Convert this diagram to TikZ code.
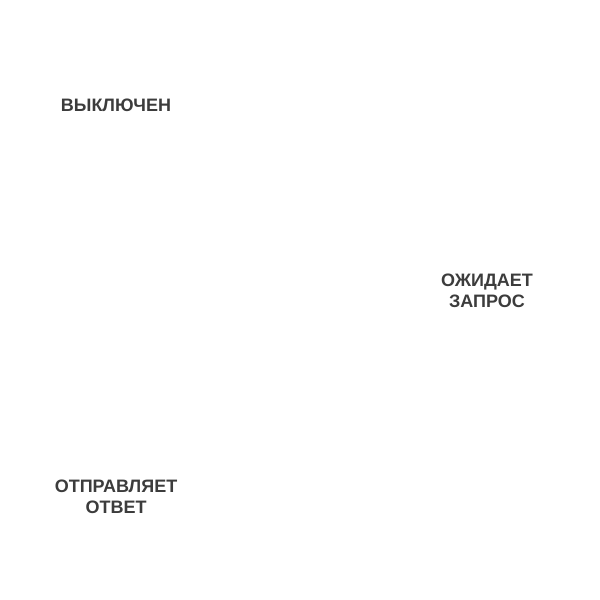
\documentclass[tikz,border=0pt]{standalone}
\usepackage{fontspec}
\setmainfont{Liberation Sans}
\definecolor{labelgray}{HTML}{3C3C3C}
\begin{document}
\begin{tikzpicture}[x=1pt,y=1pt,
  statelabel/.style={font=\bfseries\fontsize{18}{21}\selectfont, text=labelgray, align=center, inner sep=0pt}]
\useasboundingbox (0,0) rectangle (600,600);
\node[statelabel] (off) at (116,495) {ВЫКЛЮЧЕН};
\node[statelabel] (wait) at (487,309.5) {ОЖИДАЕТ\\ЗАПРОС};
\node[statelabel] (send) at (116,103.5) {ОТПРАВЛЯЕТ\\ОТВЕТ};
\end{tikzpicture}
\end{document}
